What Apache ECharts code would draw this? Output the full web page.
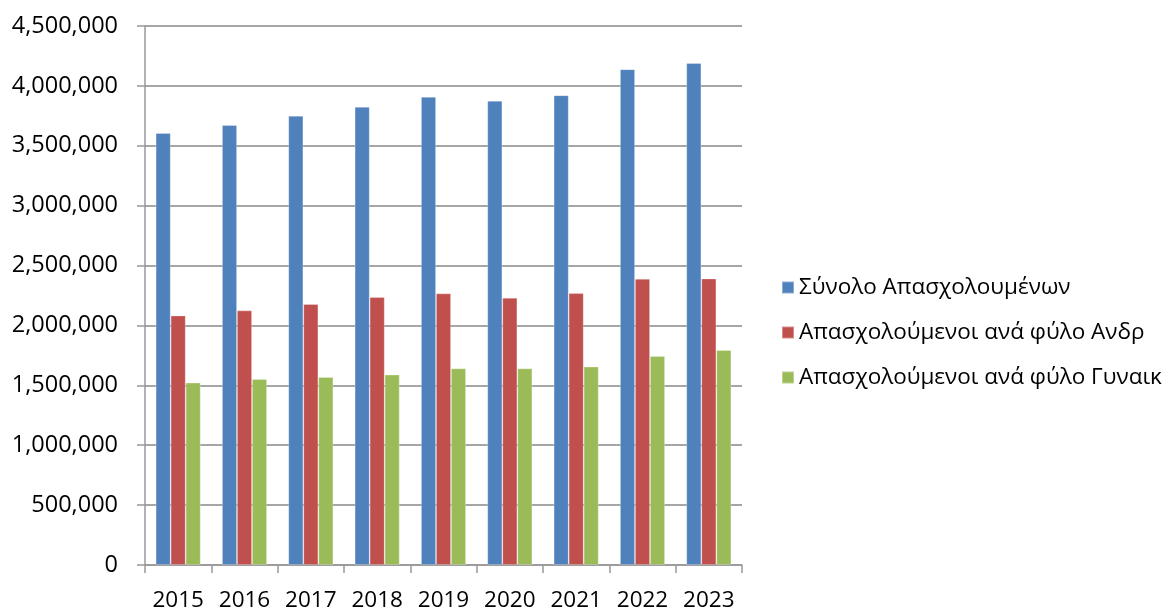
<!DOCTYPE html>
<html>
<head>
<meta charset="utf-8">
<script src="https://cdn.jsdelivr.net/npm/echarts@6/dist/echarts.min.js"></script>
<style>
html,body{margin:0;padding:0;background:#fff;}
#c{width:1174px;height:612px;}
</style>
</head>
<body>
<div id="c"></div>
<script>
const years = ['2015','2016','2017','2018','2019','2020','2021','2022','2023'];
const seriesNames = ['Σύνολο Απασχολουμένων','Απασχολούμενοι ανά φύλο Ανδρ','Απασχολούμενοι ανά φύλο Γυναικ'];
const total = [3606000,3672000,3750000,3825000,3908000,3875000,3922000,4139000,4191000];
const men = [2083000,2125000,2178000,2236000,2267000,2231000,2269000,2389000,2392000];
const women = [1522000,1553000,1569000,1589000,1642000,1641000,1656000,1744000,1794000];
const colors = ['#4F81BD','#C0504D','#9BBB59'];

const chart = echarts.init(document.getElementById('c'), null, {renderer:'canvas'});
const font = '"Open Sans", "Noto Sans", sans-serif';
function fmt(v){ return v.toString().replace(/\B(?=(\d{3})+(?!\d))/g, ','); }
const data = [total, men, women];
chart.setOption({
  animation:false,
  textStyle:{fontFamily:font},
  grid:{left:145, right:432, top:26, bottom:46, containLabel:false},
  legend:{
    orient:'vertical', left:776, top:270,
    itemWidth:12, itemHeight:12, itemGap:20,
    icon:'rect',
    textStyle:{fontFamily:font, fontSize:22.5, color:'#000', lineHeight:25},
    data:seriesNames
  },
  xAxis:{
    type:'category', data:years,
    axisLine:{lineStyle:{color:'#999', width:1.5}},
    axisTick:{show:true, interval:0, length:8, lineStyle:{color:'#999', width:1.5}},
    axisLabel:{color:'#000', fontSize:22.5, fontFamily:font, margin:24, interval:0, hideOverlap:false}
  },
  yAxis:{
    type:'value', min:0, max:4500000, interval:500000,
    axisLine:{show:true, lineStyle:{color:'#999', width:1.5}},
    axisTick:{show:true, length:8, lineStyle:{color:'#999', width:1.5}},
    splitLine:{lineStyle:{color:'#A6A6A6', width:1.8}},
    axisLabel:{color:'#000', fontSize:23.5, fontFamily:font, margin:27, formatter:fmt}
  },
  series: seriesNames.map((n,i)=>({
    name:n, type:'bar', data:data[i], barWidth:15, barGap:'0%',
    itemStyle:{color:colors[i], borderColor:'rgba(255,255,255,0.35)', borderWidth:0.8}
  }))
});
</script>
</body>
</html>
